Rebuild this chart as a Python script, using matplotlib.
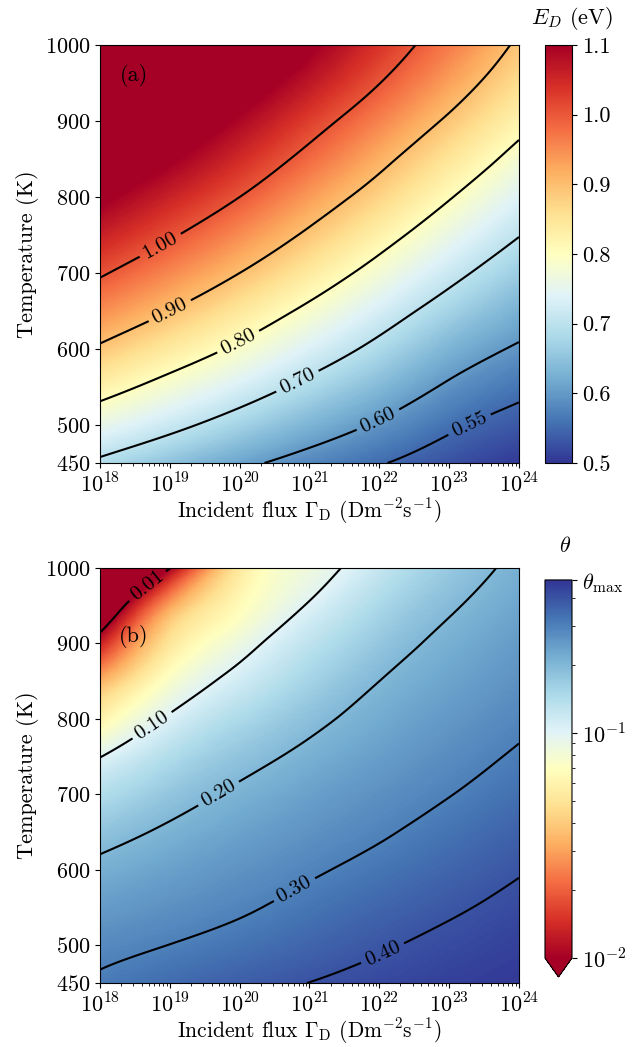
# Desorption energy and coverage maps vs incident flux and temperature

import numpy as np
import matplotlib
matplotlib.use('Agg')
import matplotlib.pyplot as plt
from matplotlib.colors import LogNorm
from matplotlib.tri import Triangulation, UniformTriRefiner

plt.rcParams['font.family'] = 'serif'
plt.rcParams['font.serif'] = ['cmr10']
plt.rcParams['mathtext.fontset'] = 'cm'
plt.rcParams['axes.unicode_minus'] = False
plt.rcParams['axes.formatter.use_mathtext'] = True
plt.rcParams['font.size'] = 16

# grid
flux_exp = [18, 19, 20, 21, 22, 23, 24]
temps = [450, 500, 550, 600, 650, 700, 750, 800, 850, 900, 950, 1000]

# E_D (eV) at each flux decade, from 450 K up to 1000 K
ed_1e18 = [0.689, 0.758, 0.825, 0.891, 0.950, 1.007, 1.059, 1.110, 1.157, 1.204, 1.248, 1.290]
ed_1e19 = [0.649, 0.716, 0.778, 0.839, 0.900, 0.954, 1.007, 1.056, 1.105, 1.150, 1.195, 1.235]
ed_1e20 = [0.612, 0.673, 0.732, 0.789, 0.844, 0.900, 0.950, 1.000, 1.046, 1.090, 1.135, 1.172]
ed_1e21 = [0.580, 0.631, 0.684, 0.736, 0.787, 0.839, 0.890, 0.936, 0.982, 1.025, 1.069, 1.108]
ed_1e22 = [0.553, 0.594, 0.638, 0.684, 0.730, 0.777, 0.825, 0.873, 0.916, 0.959, 1.001, 1.036]
ed_1e23 = [0.527, 0.558, 0.593, 0.631, 0.674, 0.717, 0.760, 0.804, 0.848, 0.891, 0.931, 0.966]
ed_1e24 = [0.505, 0.533, 0.562, 0.594, 0.628, 0.664, 0.702, 0.740, 0.779, 0.821, 0.859, 0.890]

# coverage theta at each flux decade, from 450 K up to 1000 K
th_1e18 = [0.312, 0.279, 0.247, 0.214, 0.179, 0.140, 0.099, 0.059, 0.033, 0.013, 0.005, 0.0019]
th_1e19 = [0.343, 0.301, 0.268, 0.239, 0.209, 0.177, 0.142, 0.105, 0.075, 0.051, 0.030, 0.0098]
th_1e20 = [0.373, 0.327, 0.291, 0.264, 0.237, 0.210, 0.180, 0.147, 0.114, 0.087, 0.066, 0.053]
th_1e21 = [0.401, 0.358, 0.322, 0.291, 0.264, 0.239, 0.213, 0.186, 0.157, 0.130, 0.103, 0.085]
th_1e22 = [0.426, 0.391, 0.356, 0.322, 0.292, 0.268, 0.244, 0.222, 0.200, 0.175, 0.149, 0.123]
th_1e23 = [0.447, 0.420, 0.389, 0.357, 0.326, 0.298, 0.275, 0.254, 0.234, 0.215, 0.193, 0.171]
th_1e24 = [0.466, 0.446, 0.422, 0.394, 0.365, 0.334, 0.308, 0.286, 0.267, 0.249, 0.231, 0.213]
theta_max = 0.48

ed_levels = [0.55, 0.60, 0.70, 0.80, 0.90, 1.00]
th_levels = [0.01, 0.10, 0.20, 0.30, 0.40]
ed_ticks = [0.5, 0.6, 0.7, 0.8, 0.9, 1.0, 1.1]
y_ticks = [450, 500, 600, 700, 800, 900, 1000]

ed = np.column_stack([ed_1e18, ed_1e19, ed_1e20, ed_1e21, ed_1e22, ed_1e23, ed_1e24])
th = np.column_stack([th_1e18, th_1e19, th_1e20, th_1e21, th_1e22, th_1e23, th_1e24])

# triangulate the read grid with every cell split along the same diagonal,
# then let matplotlib's refiner draw a smooth surface through it
# (temperature in units of 100 K so the triangles are not squashed)
nx, ny = len(flux_exp), len(temps)
gx, gy = np.meshgrid(flux_exp, np.array(temps) / 100.0)
cells = []
for j in range(ny - 1):
    for i in range(nx - 1):
        a = j * nx + i
        b, c, d = a + 1, a + nx, a + nx + 1
        cells.append([a, b, d])
        cells.append([a, d, c])
tri = Triangulation(gx.ravel(), gy.ravel(), np.array(cells))
refiner = UniformTriRefiner(tri)
tri_r, ed_r = refiner.refine_field(ed.ravel(), subdiv=4)
_, th_r = refiner.refine_field(th.ravel(), subdiv=4)
_, logth_r = refiner.refine_field(np.log10(th).ravel(), subdiv=4)
tri_plot = Triangulation(tri_r.x, tri_r.y * 100.0, tri_r.triangles)


def style_axes(ax):
    ax.set_xlim(18, 24)
    ax.set_ylim(450, 1000)
    ax.set_xticks(flux_exp)
    ax.set_xticklabels([r'$10^{%d}$' % e for e in flux_exp])
    minor = [e + np.log10(k) for e in flux_exp[:-1] for k in range(2, 10)]
    ax.set_xticks(minor, minor=True)
    ax.set_yticks(y_ticks)
    ax.set_xlabel(r'Incident flux $\Gamma_{\rm D}$ (Dm$^{-2}$s$^{-1}$)',
                  labelpad=0, fontsize=15.5)
    ax.set_ylabel('Temperature (K)')


fig = plt.figure(figsize=(6.34, 10.47), dpi=100)

# panel (a)
ax1 = fig.add_axes([0.1577, 0.5578, 0.6609, 0.3992])
cax1 = fig.add_axes([0.8596, 0.5578, 0.0426, 0.3992])
m1 = ax1.tripcolor(tri_plot, ed_r, shading='gouraud', cmap='RdYlBu_r', vmin=0.5, vmax=1.1)
cs1 = ax1.tricontour(tri_plot, ed_r, levels=ed_levels, colors='k', linewidths=1.5)
ax1.clabel(cs1, fmt='%.2f', fontsize=15,
           manual=[(18.86, 737), (18.98, 654), (19.96, 613),
                   (20.82, 559), (21.96, 511), (23.31, 497)])
style_axes(ax1)
ax1.text(0.08, 0.928, '(a)', transform=ax1.transAxes, ha='center', va='center')
cb1 = fig.colorbar(m1, cax=cax1)
cb1.set_ticks(ed_ticks)
cb1.set_ticklabels(['%.1f' % v for v in ed_ticks])
fig.text(572 / 634, 1 - 18 / 1047, r'$E_D$ (eV)', ha='center', va='center')

# panel (b)
ax2 = fig.add_axes([0.1577, 0.0611, 0.6609, 0.3964])
cax2 = fig.add_axes([0.8596, 0.0669, 0.0426, 0.3792])
norm = LogNorm(vmin=0.01, vmax=theta_max)
m2 = ax2.tripcolor(tri_plot, 10 ** logth_r, shading='gouraud', cmap='RdYlBu', norm=norm)
# the 0.01 line sits in the steep corner, so it is traced on log(theta)
cs2a = ax2.tricontour(tri_plot, logth_r, levels=[np.log10(th_levels[0])], colors='k',
                      linewidths=1.5, linestyles='solid')
cs2 = ax2.tricontour(tri_plot, th_r, levels=th_levels[1:], colors='k',
                     linewidths=1.5, linestyles='solid')
ax2.clabel(cs2a, fmt={cs2a.levels[0]: '0.01'}, fontsize=15, manual=[(18.69, 975)])
ax2.clabel(cs2, fmt='%.2f', fontsize=15,
           manual=[(18.75, 791), (19.68, 704), (20.82, 568), (22.03, 493)])
style_axes(ax2)
ax2.text(0.08, 0.835, '(b)', transform=ax2.transAxes, ha='center', va='center')
cb2 = fig.colorbar(m2, cax=cax2, extend='min')
cb2.set_ticks([0.01, 0.1, theta_max])
cb2.set_ticklabels([r'$10^{-2}$', r'$10^{-1}$', r'$\theta_{\max}$'])
cb2.minorticks_on()
fig.text(565 / 634, 1 - 546 / 1047, r'$\theta$', ha='center', va='center')

fig.savefig('out.png', dpi=100)
